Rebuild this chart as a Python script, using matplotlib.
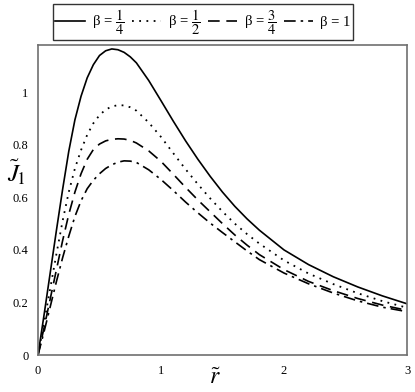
import matplotlib
matplotlib.use('Agg')
import matplotlib.pyplot as plt

plt.rcParams['font.family'] = ['Liberation Serif', 'DejaVu Serif']
plt.rcParams['mathtext.fontset'] = 'stix'

# values
r = [0, 0.05, 0.1, 0.15, 0.2, 0.25, 0.3, 0.35, 0.4, 0.45, 0.5, 0.55, 0.6, 0.65, 0.7, 0.75,
     0.8, 0.9, 1.0, 1.1, 1.2, 1.3, 1.4, 1.5, 1.6, 1.7, 1.8, 2.0, 2.2, 2.4, 2.6, 2.8, 3.0]
j_quarter = [0, 0.155, 0.315, 0.475, 0.63, 0.775, 0.895, 0.985, 1.055, 1.105, 1.14, 1.158, 1.165, 1.162, 1.152, 1.135,
             1.112, 1.045, 0.968, 0.89, 0.815, 0.745, 0.68, 0.62, 0.566, 0.518, 0.475, 0.40, 0.344, 0.298, 0.259, 0.225, 0.195]
j_half = [0, 0.125, 0.255, 0.385, 0.51, 0.62, 0.71, 0.78, 0.838, 0.882, 0.913, 0.934, 0.946, 0.951, 0.95, 0.943,
          0.93, 0.885, 0.83, 0.768, 0.707, 0.65, 0.596, 0.546, 0.50, 0.46, 0.424, 0.36, 0.31, 0.27, 0.235, 0.205, 0.18]
j_3quarter = [0, 0.105, 0.215, 0.325, 0.435, 0.535, 0.62, 0.69, 0.745, 0.782, 0.803, 0.815, 0.821, 0.823, 0.822, 0.817,
              0.807, 0.777, 0.737, 0.688, 0.638, 0.59, 0.545, 0.50, 0.457, 0.418, 0.382, 0.325, 0.28, 0.245, 0.215, 0.19, 0.17]
j_one = [0, 0.09, 0.185, 0.28, 0.37, 0.452, 0.527, 0.587, 0.633, 0.665, 0.69, 0.71, 0.724, 0.734, 0.739, 0.738,
         0.733, 0.705, 0.668, 0.626, 0.582, 0.541, 0.502, 0.466, 0.431, 0.396, 0.363, 0.312, 0.271, 0.236, 0.206, 0.182, 0.165]

labels = [r'β = $\dfrac{1}{4}$', r'β = $\dfrac{1}{2}$', r'β = $\dfrac{3}{4}$', 'β = 1']
xticks = [0, 1, 2, 3]
yticks = [0, 0.2, 0.4, 0.6, 0.8, 1]
ytick_labels = ['0', '0.2', '0.4', '0.6', '0.8', '1']

fig = plt.figure(figsize=(4.15, 3.92), dpi=100)
ax = fig.add_axes([38 / 415, 37 / 392, 369 / 415, 310 / 392])

ax.plot(r, j_quarter, color='black', lw=1.2, ls='-', label=labels[0])
ax.plot(r, j_half, color='black', lw=1.3, ls=(0, (1, 3)), label=labels[1])
ax.plot(r, j_3quarter, color='black', lw=1.2, ls=(0, (7, 4)), label=labels[2])
ax.plot(r, j_one, color='black', lw=1.2, ls=(0, (7, 3, 1.5, 3)), label=labels[3])

ax.set_xlim(0, 3)
ax.set_ylim(0, 1.18)
ax.set_xticks(xticks)
ax.set_xticklabels([str(t) for t in xticks])
ax.set_yticks(yticks)
ax.set_yticklabels(ytick_labels)
ax.tick_params(length=0, labelsize=9, pad=7)
for s in ax.spines.values():
    s.set_color('#707070')
    s.set_linewidth(1.2)

ax.text(-0.058, 0.59, r'$\tilde{J}_{\!1}$', transform=ax.transAxes, fontsize=18,
        ha='center', va='center')
ax.text(0.48, -0.075, r'$\tilde{r}$', transform=ax.transAxes, fontsize=17,
        ha='center', va='center')

leg = fig.legend(loc='center', bbox_to_anchor=(203 / 415, 1 - 22 / 392), ncol=4,
                 frameon=True, fancybox=False, edgecolor='black', fontsize=10.5,
                 handlelength=2.0, handletextpad=0.5, columnspacing=0.5,
                 borderpad=0.2, borderaxespad=0)
leg.get_frame().set_linewidth(1.0)

fig.savefig('out.png', dpi=100)
